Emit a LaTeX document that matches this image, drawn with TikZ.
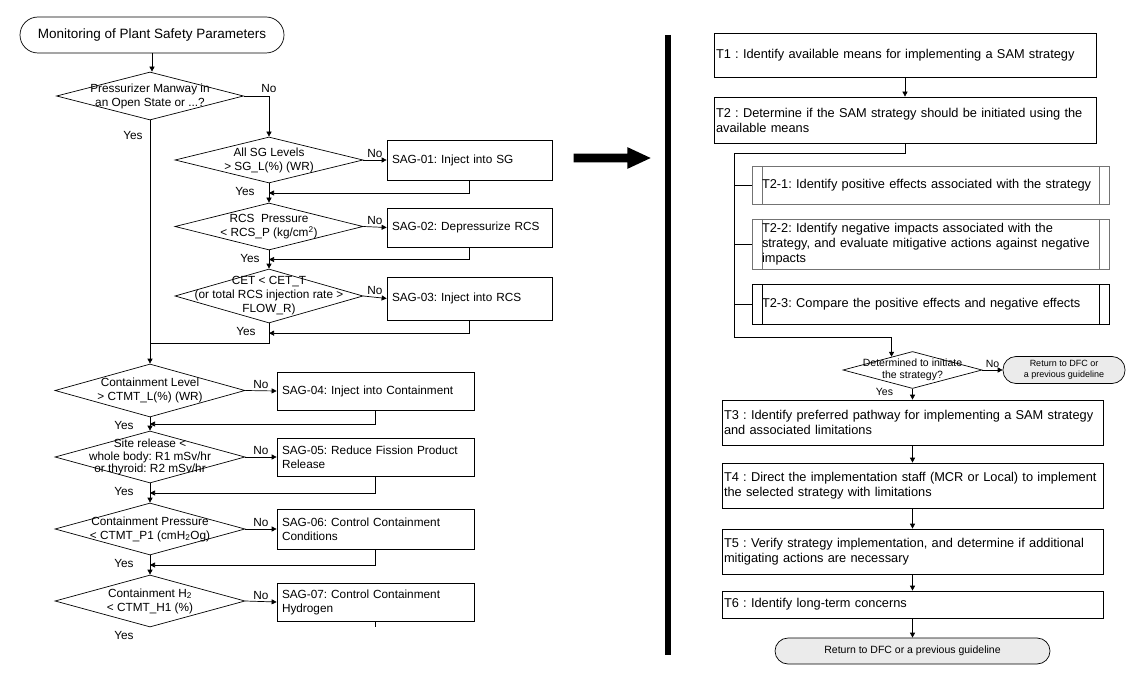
\documentclass[tikz,border=0pt]{standalone}
\usepackage{fontspec}
\setmainfont{Liberation Sans}
\usetikzlibrary{shapes.geometric,shapes.arrows,arrows.meta,calc}
\frenchspacing
\hyphenpenalty=10000

\tikzset{
  arr/.style={-{Triangle[length=5pt,width=5pt]}},
  lab/.style={inner sep=1pt, font=\fontsize{11.8}{14}\selectfont},
  smalllab/.style={inner sep=1pt, font=\fontsize{10.5}{12}\selectfont},
  cond/.style={diamond, draw, inner sep=0pt, minimum width=190pt, minimum height=52pt},
  ctext/.style={align=center, inner sep=0pt, font=\fontsize{11.8}{14}\selectfont},
  sag/.style={draw, align=left, inner xsep=5pt, text width=#1, font=\fontsize{11.8}{14}\selectfont},
  term/.style={draw, rounded corners=#1, inner sep=0pt},
  ret/.style={term=13pt, fill=black!8, align=center},
  task/.style={draw, align=left, inner xsep=2pt, text width=#1, font=\fontsize{12.8}{15}\selectfont},
  sub/.style={draw=black!55, align=left, inner xsep=10pt, text width=337pt,
    font=\fontsize{12.8}{15}\selectfont,
    path picture={\draw[line width=0.7pt]
      ([xshift=10pt]path picture bounding box.north west) -- ([xshift=10pt]path picture bounding box.south west)
      ([xshift=-10pt]path picture bounding box.north east) -- ([xshift=-10pt]path picture bounding box.south east);}},
}

\begin{document}
\begin{tikzpicture}[x=1pt, y=-1pt, line width=0.7pt]
\useasboundingbox (0,0) rectangle (1146,679);

\node[term=18pt, minimum width=264pt, minimum height=36pt, font=\fontsize{13.5}{15}\selectfont] (start) at (152,35) {Monitoring of Plant Safety Parameters};
\node[cond, minimum width=187pt, minimum height=48pt, label={[ctext]center:{Pressurizer Manway in\\an Open State or ...?}}] (manway) at (150,96) {};
\node[cond, minimum width=188pt, minimum height=46pt, label={[ctext]center:{All SG Levels\\> SG\_L(\%) (WR)}}] (c1) at (269,160) {};
\node[cond, minimum width=188pt, minimum height=47pt, label={[ctext]center:{RCS~~Pressure\\< RCS\_P (kg/cm\textsuperscript{2})}}] (c2) at (269,226.5) {};
\node[cond, minimum width=188pt, minimum height=54pt, label={[ctext]center:{CET < CET\_T\\(or total RCS injection rate >\\FLOW\_R)}}] (c3) at (269,296) {};
\node[cond, minimum height=53pt, label={[ctext]center:{Containment Level\\> CTMT\_L(\%) (WR)}}] (c4) at (150,390.5) {};
\node[cond, label={[ctext, font=\fontsize{11.8}{12.5}\selectfont]center:{Site release <\\whole body: R1 mSv/hr\\or thyroid: R2 mSv/hr}}] (c5) at (150,457) {};
\node[cond, label={[ctext]center:{Containment Pressure\\< CTMT\_P1 (cmH\textsubscript{2}Og)}}] (c6) at (150,529) {};
\node[cond, label={[ctext]center:{Containment H\textsubscript{2}\\< CTMT\_H1 (\%)}}] (c7) at (150,601) {};

\node[sag=155pt, minimum height=40pt] (sag1) at (469.5,160) {SAG-01: Inject into SG};
\node[sag=155pt, minimum height=39pt] (sag2) at (469.5,227.5) {SAG-02: Depressurize RCS};
\node[sag=155pt, minimum height=43pt] (sag3) at (469.5,298.5) {SAG-03: Inject into RCS};
\node[sag=187pt, minimum height=38pt] (sag4) at (375.5,391) {SAG-04: Inject into Containment};
\node[sag=187pt, minimum height=38pt] (sag5) at (375.5,457) {SAG-05: Reduce Fission Product\\Release};
\node[sag=187pt, minimum height=40pt] (sag6) at (375.5,529) {SAG-06: Control Containment\\Conditions};
\node[sag=187pt, minimum height=38pt] (sag7) at (375.5,602) {SAG-07: Control Containment\\Hydrogen};

\draw[arr] (start.south) -- (start.south |- manway.north);
\draw[arr] (manway.east) -| node[lab, above, pos=0.5, yshift=2pt] (no0) {No} (c1.north);
\node[lab] (yes0) at ($(manway.south)+(-17,15)$) {Yes};
\foreach \i in {1,...,7}
  \draw[arr] (c\i.east) -- node[lab, above, yshift=1pt] (no\i) {No} (sag\i.west);
\foreach \a/\b in {1/2,2/3,4/5,5/6,6/7}
{
  \draw[arr] (c\a.south) -- (c\b.north);
  \draw[arr] (sag\a.south) |- ($(c\a.south)!0.5!(c\b.north)$);
}
\foreach \i/\dx in {1/-24,2/-19,3/-23,4/-26,5/-26,6/-26,7/-26}
  \node[lab] (yes\i) at ($(c\i.south)+(\dx,8)$) {Yes};
\coordinate (j3) at (150,343);
\draw (c3.south) |- (j3);
\draw[arr] (sag3.south) |- ($(c3.south)!0.5!(c3.south |- j3)$);
\draw (manway.south) -- (j3);
\draw[arr] (j3) -- (c4.north);
\draw (sag7.south) -- ++(0,6);

\node[single arrow, fill=black, inner sep=4pt, minimum height=77pt, single arrow head extend=6.5pt, single arrow tip angle=50] (bigarrow) at (607.5,158) {};
\draw[line width=6pt] (668,35) -- (668,655);

\node[task=378pt, minimum height=44pt] (t1) at (905,55) {T1 : Identify available means for implementing a SAM strategy};
\node[task=378pt, minimum height=46pt] (t2) at (905,120) {T2 : Determine if the SAM strategy should be initiated using the\\available means};
\node[sub, minimum height=38pt] (t21) at (930.5,185) {T2-1: Identify positive effects associated with the strategy};
\node[sub, minimum height=50pt] (t22) at (930.5,244) {T2-2: Identify negative impacts associated with the\\strategy, and evaluate mitigative actions against negative\\impacts};
\node[sub, draw=black, minimum height=40pt] (t23) at (930.5,304) {T2-3: Compare the positive effects and negative effects};
\node[diamond, draw, inner sep=0pt, minimum width=139pt, minimum height=37pt, label={[ctext, font=\fontsize{10.5}{12}\selectfont]center:{Determined to initiate\\the strategy?}}] (dec) at (912.5,370) {};
\node[ret, minimum width=122pt, minimum height=27pt, font=\fontsize{9}{10.5}\selectfont] (ret1) at (1064,370) {Return to DFC or\\a previous guideline};
\node[task=377pt, minimum height=45pt] (t3) at (912.5,422.5) {T3 : Identify preferred pathway for implementing a SAM strategy\\and associated limitations};
\node[task=377pt, minimum height=45pt] (t4) at (912.5,485.5) {T4 : Direct the implementation staff (MCR or Local) to implement\\the selected strategy with limitations};
\node[task=377pt, minimum height=45pt] (t5) at (912.5,551.5) {T5 : Verify strategy implementation, and determine if additional\\mitigating actions are necessary};
\node[task=377pt, minimum height=27pt] (t6) at (912.5,604.5) {T6 : Identify long-term concerns};
\node[ret, minimum width=275pt, minimum height=26pt, font=\fontsize{10.5}{12}\selectfont] (ret2) at (912.5,651) {Return to DFC or a previous guideline};

\draw[arr] (t1) -- (t2);
\coordinate (railtop) at (734,153);
\coordinate (railbot) at (734,337);
\draw[arr] (t2.south) |- (railtop) -- (railbot) -| ($(dec.north)!0.3!(dec.west)$);
\foreach \n in {t21,t22,t23}
  \draw (railtop |- \n.west) -- (\n.west);
\draw[arr] (dec.east) -- node[smalllab, above, yshift=1pt] (no8) {No} (ret1.west);
\draw[arr] (dec.south) -- (t3.north);
\node[smalllab] (yes8) at ($(dec.south)+(-28,3)$) {Yes};
\foreach \a/\b in {t3/t4,t4/t5,t5/t6,t6/ret2}
  \draw[arr] (\a) -- (\b);
\end{tikzpicture}
\end{document}
